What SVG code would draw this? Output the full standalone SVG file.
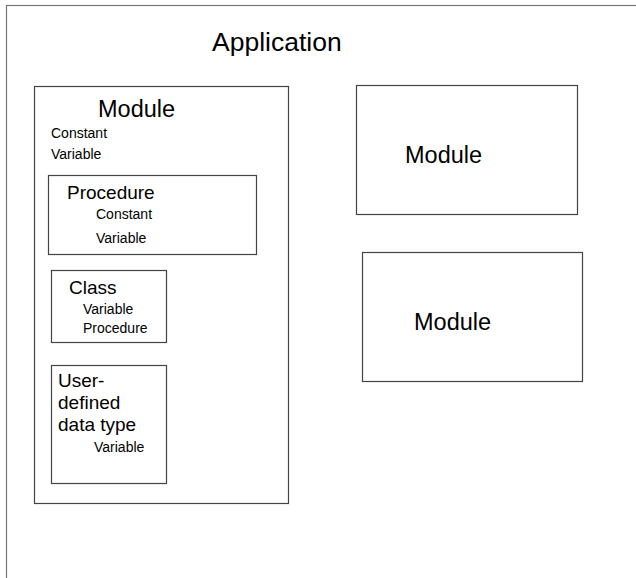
<svg xmlns="http://www.w3.org/2000/svg" width="636" height="578" viewBox="0 0 636 578">
<style>
.b{fill:#fff;stroke:#444;stroke-width:1.2}
.t{font-family:"Liberation Sans",Arial,sans-serif;fill:#000}
.s{font-size:14px}
.m{font-size:19px}
.l{font-size:23.5px}
</style>
<rect x="0" y="0" width="636" height="578" fill="#fff"/>
<g id="application">
<rect x="6.5" y="5.5" width="640" height="600" fill="none" stroke="#777" stroke-width="1.2"/>
<text class="t" x="212" y="51" font-size="26.5">Application</text>
</g>
<g id="module1">
<rect class="b" x="34.5" y="86.5" width="254" height="417"/>
<text class="t l" x="98" y="117">Module</text>
<text class="t s" x="51" y="138">Constant</text>
<text class="t s" x="51" y="159">Variable</text>
</g>
<g id="procedure">
<rect class="b" x="48.5" y="175.5" width="208" height="79"/>
<text class="t m" x="67" y="199">Procedure</text>
<text class="t s" x="96" y="219">Constant</text>
<text class="t s" x="96" y="243">Variable</text>
</g>
<g id="class">
<rect class="b" x="51.5" y="270.5" width="115" height="72"/>
<text class="t m" x="69" y="294">Class</text>
<text class="t s" x="83" y="314">Variable</text>
<text class="t s" x="83" y="333">Procedure</text>
</g>
<g id="udt">
<rect class="b" x="51.5" y="365.5" width="115" height="118"/>
<text class="t m" x="58" y="387">User-</text>
<text class="t m" x="58" y="409">defined</text>
<text class="t m" x="58" y="431">data type</text>
<text class="t s" x="94" y="452">Variable</text>
</g>
<g id="module2">
<rect class="b" x="356.5" y="85.5" width="221" height="129"/>
<text class="t l" x="405" y="163">Module</text>
</g>
<g id="module3">
<rect class="b" x="362.5" y="252.5" width="220" height="129"/>
<text class="t l" x="414" y="330">Module</text>
</g>
<g id="connectors"></g>
</svg>
